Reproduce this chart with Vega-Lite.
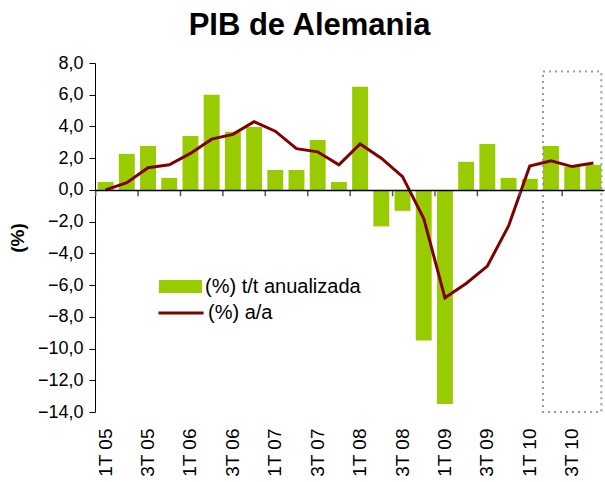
{
  "$schema": "https://vega.github.io/schema/vega-lite/v6.json",
  "autosize": {"type": "none"},
  "width": 509,
  "height": 349,
  "padding": {"left": 95, "top": 63, "right": 1, "bottom": 70},
  "background": "white",
  "title": {
    "text": "PIB de Alemania",
    "font": "Liberation Sans",
    "fontSize": 31,
    "fontWeight": "bold",
    "color": "black",
    "anchor": "middle",
    "frame": "group",
    "dx": -40,
    "offset": 12
  },
  "config": {
    "view": {"stroke": null},
    "font": "Liberation Sans",
    "axisY": {
      "values": [-14, -12, -10, -8, -6, -4, -2, 0, 2, 4, 6, 8],
      "labelExpr": "replace(format(datum.value, '.1f'), '.', ',')",
      "labelFont": "Liberation Sans",
      "labelFontSize": 18,
      "labelColor": "black",
      "labelPadding": 6,
      "labelOverlap": false,
      "labelFlush": false,
      "labelBound": false,
      "tickSize": 6,
      "tickColor": "black",
      "domainColor": "black",
      "domainWidth": 1,
      "grid": false,
      "titleFont": "Liberation Sans",
      "titleFontSize": 19,
      "titleFontWeight": "bold",
      "titleColor": "black",
      "titlePadding": 10
    }
  },
  "datasets": {
    "pib": [
      {"q": "1T 05", "tt": 0.5, "aa": 0.0},
      {"q": "2T 05", "tt": 2.27, "aa": 0.46},
      {"q": "3T 05", "tt": 2.77, "aa": 1.4},
      {"q": "4T 05", "tt": 0.76, "aa": 1.58},
      {"q": "1T 06", "tt": 3.4, "aa": 2.3},
      {"q": "2T 06", "tt": 6.0, "aa": 3.2},
      {"q": "3T 06", "tt": 3.66, "aa": 3.5},
      {"q": "4T 06", "tt": 3.97, "aa": 4.3},
      {"q": "1T 07", "tt": 1.26, "aa": 3.7},
      {"q": "2T 07", "tt": 1.26, "aa": 2.6},
      {"q": "3T 07", "tt": 3.15, "aa": 2.4},
      {"q": "4T 07", "tt": 0.5, "aa": 1.58},
      {"q": "1T 08", "tt": 6.5, "aa": 2.9},
      {"q": "2T 08", "tt": -2.3, "aa": 2.0},
      {"q": "3T 08", "tt": -1.32, "aa": 0.84},
      {"q": "4T 08", "tt": -9.5, "aa": -1.8},
      {"q": "1T 09", "tt": -13.5, "aa": -6.8},
      {"q": "2T 09", "tt": 1.77, "aa": -5.9},
      {"q": "3T 09", "tt": 2.9, "aa": -4.8},
      {"q": "4T 09", "tt": 0.76, "aa": -2.27},
      {"q": "1T 10", "tt": 0.7, "aa": 1.5},
      {"q": "2T 10", "tt": 2.77, "aa": 1.83},
      {"q": "3T 10", "tt": 1.47, "aa": 1.47},
      {"q": "4T 10", "tt": 1.58, "aa": 1.7}
    ],
    "box": [
      {"start": "2T 10", "end": "4T 10", "top": 7.46, "bottom": -14}
    ]
  },
  "resolve": {"axis": {"x": "independent"}},
  "layer": [
    {
      "data": {"name": "pib"},
      "mark": {"type": "bar"},
      "encoding": {
        "x": {
          "field": "q",
          "type": "ordinal",
          "sort": null,
          "scale": {
            "domain": ["1T 05","2T 05","3T 05","4T 05","1T 06","2T 06","3T 06","4T 06","1T 07","2T 07","3T 07","4T 07","1T 08","2T 08","3T 08","4T 08","1T 09","2T 09","3T 09","4T 09","1T 10","2T 10","3T 10","4T 10"],
            "paddingInner": 0.25,
            "paddingOuter": 0.125
          },
          "axis": {
            "title": null,
            "values": ["1T 05","3T 05","1T 06","3T 06","1T 07","3T 07","1T 08","3T 08","1T 09","3T 09","1T 10","3T 10"],
            "labelAngle": -90,
            "labelAlign": "right",
            "labelBaseline": "middle",
            "labelFont": "Liberation Sans",
            "labelFontSize": 19,
            "labelColor": "black",
            "labelPadding": 16,
            "labelOverlap": false,
            "ticks": false,
            "tickSize": 0,
            "domain": false,
            "grid": false
          }
        },
        "y": {
          "field": "tt",
          "type": "quantitative",
          "title": "(%)",
          "scale": {"domain": [-14, 8], "nice": false}
        },
        "fill": {
          "datum": "(%) t/t anualizada",
          "type": "nominal",
          "scale": {"range": ["#99cc00"]},
          "legend": {
            "title": null,
            "orient": "none",
            "legendX": 64,
            "legendY": 202,
            "padding": 0,
            "symbolType": "M-1,-0.3H1V0.3H-1Z",
            "symbolSize": 1849,
            "symbolStrokeWidth": 0,
            "labelFont": "Liberation Sans",
            "labelFontSize": 20,
            "labelColor": "black",
            "labelOffset": 3
          }
        }
      }
    },
    {
      "data": {"name": "pib"},
      "mark": {"type": "line", "strokeWidth": 3},
      "encoding": {
        "x": {
          "field": "q",
          "type": "ordinal",
          "sort": null,
          "axis": {
            "title": null,
            "orient": "top",
            "labels": false,
            "ticks": false,
            "offset": -127,
            "domain": true,
            "domainColor": "black",
            "domainWidth": 1.5,
            "grid": false,
            "zindex": 1
          }
        },
        "y": {"field": "aa", "type": "quantitative", "title": "(%)"},
        "stroke": {
          "datum": "(%) a/a",
          "type": "nominal",
          "scale": {"range": ["#800000"]},
          "legend": {
            "title": null,
            "orient": "none",
            "legendX": 62,
            "legendY": 226,
            "padding": 0,
            "symbolType": "stroke",
            "symbolSize": 2025,
            "symbolStrokeWidth": 3,
            "labelFont": "Liberation Sans",
            "labelFontSize": 20,
            "labelColor": "black",
            "labelOffset": 3
          }
        }
      }
    },
    {
      "data": {"name": "pib"},
      "transform": [{"filter": "indexof(datum.q, '1T') == 0 || indexof(datum.q, '3T') == 0"}],
      "mark": {"type": "rule", "color": "#555555", "strokeWidth": 1.5, "xOffset": -2},
      "encoding": {
        "x": {"field": "q", "type": "ordinal", "sort": null, "bandPosition": 0, "axis": null},
        "y": {"datum": 0, "type": "quantitative", "title": "(%)"},
        "y2": {"datum": -0.4}
      }
    },
    {
      "data": {"name": "box"},
      "mark": {"type": "rect", "fill": null, "stroke": "#999999", "strokeWidth": 2, "strokeDash": [2, 4]},
      "encoding": {
        "x": {"field": "start", "type": "ordinal", "sort": null, "bandPosition": 0, "axis": null},
        "x2": {"field": "end", "bandPosition": 1},
        "y": {"field": "top", "type": "quantitative", "title": "(%)"},
        "y2": {"field": "bottom"}
      }
    }
  ]
}
